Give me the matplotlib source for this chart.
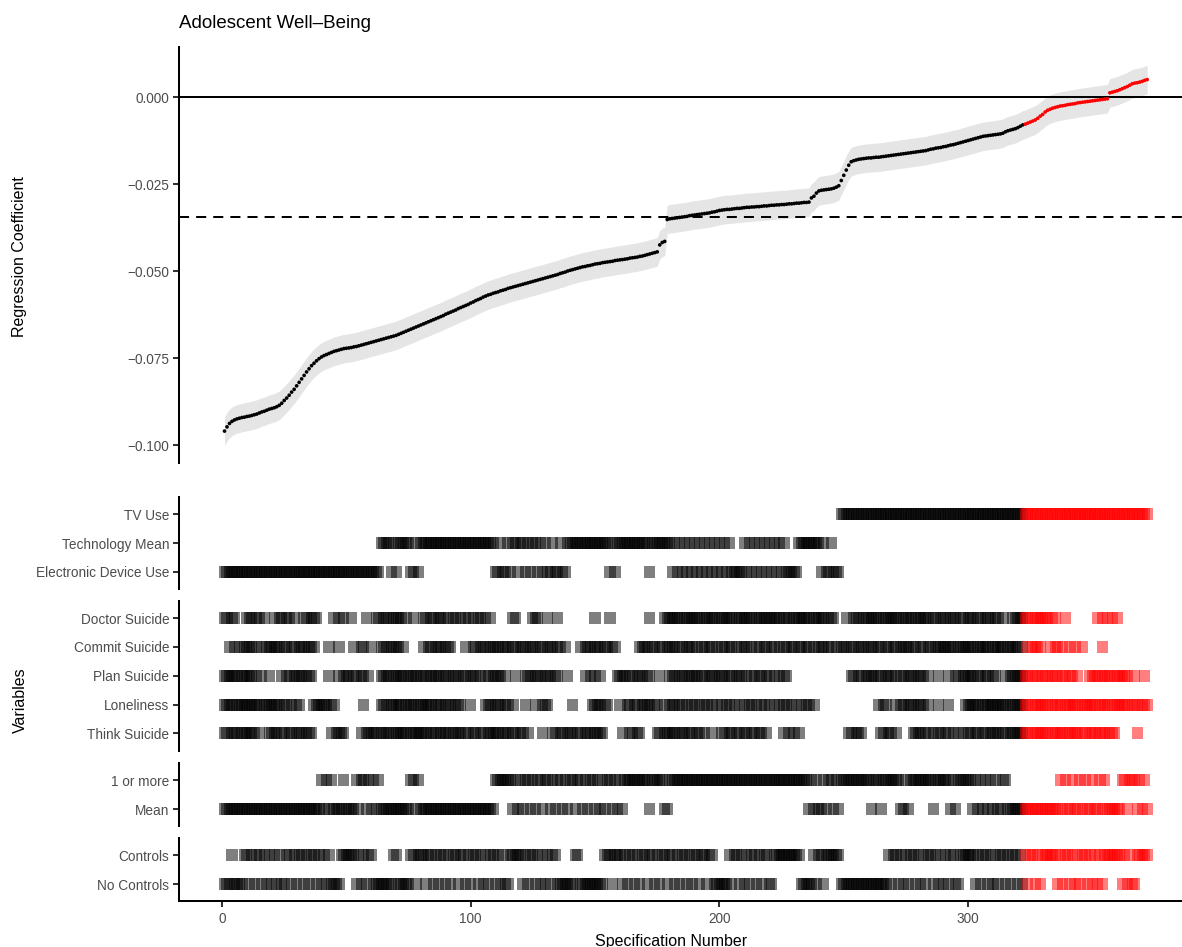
import numpy as np
import matplotlib
matplotlib.use("Agg")
import matplotlib.pyplot as plt
from matplotlib.ticker import FuncFormatter

plt.rcParams['font.family'] = ['Liberation Sans', 'DejaVu Sans']

# ---------------- data ----------------
title = "Adolescent Well\u2013Being"

# regression coefficient per specification (sorted), specs 1..372
coef = [
    -0.0960, -0.0948, -0.0938, -0.0932, -0.0928, -0.0925, -0.0923, -0.0921, -0.0920, -0.0918,
    -0.0917, -0.0915, -0.0913, -0.0911, -0.0908, -0.0905, -0.0903, -0.0900, -0.0897, -0.0895,
    -0.0893, -0.0890, -0.0886, -0.0880, -0.0872, -0.0865, -0.0857, -0.0848, -0.0840, -0.0830,
    -0.0820, -0.0810, -0.0800, -0.0790, -0.0781, -0.0772, -0.0765, -0.0758, -0.0752, -0.0747,
    -0.0743, -0.0740, -0.0737, -0.0734, -0.0731, -0.0729, -0.0727, -0.0725, -0.0723, -0.0722,
    -0.0721, -0.0720, -0.0718, -0.0717, -0.0715, -0.0713, -0.0711, -0.0709, -0.0707, -0.0705,
    -0.0703, -0.0701, -0.0699, -0.0697, -0.0695, -0.0693, -0.0691, -0.0689, -0.0687, -0.0685,
    -0.0682, -0.0679, -0.0676, -0.0673, -0.0670, -0.0667, -0.0664, -0.0661, -0.0658, -0.0655,
    -0.0652, -0.0649, -0.0646, -0.0643, -0.0640, -0.0637, -0.0634, -0.0631, -0.0628, -0.0624,
    -0.0621, -0.0618, -0.0615, -0.0612, -0.0608, -0.0605, -0.0602, -0.0599, -0.0596, -0.0592,
    -0.0589, -0.0585, -0.0582, -0.0579, -0.0575, -0.0572, -0.0569, -0.0567, -0.0564, -0.0562,
    -0.0560, -0.0557, -0.0555, -0.0553, -0.0550, -0.0548, -0.0546, -0.0544, -0.0542, -0.0540,
    -0.0538, -0.0536, -0.0534, -0.0532, -0.0530, -0.0528, -0.0526, -0.0524, -0.0522, -0.0520,
    -0.0518, -0.0516, -0.0514, -0.0512, -0.0510, -0.0507, -0.0505, -0.0503, -0.0500, -0.0498,
    -0.0496, -0.0494, -0.0492, -0.0490, -0.0488, -0.0487, -0.0485, -0.0484, -0.0482, -0.0480,
    -0.0479, -0.0478, -0.0476, -0.0475, -0.0474, -0.0473, -0.0472, -0.0470, -0.0469, -0.0468,
    -0.0467, -0.0466, -0.0465, -0.0463, -0.0462, -0.0461, -0.0460, -0.0458, -0.0457, -0.0455,
    -0.0453, -0.0451, -0.0449, -0.0447, -0.0445, -0.0425, -0.0418, -0.0415, -0.0352, -0.0350,
    -0.0349, -0.0348, -0.0347, -0.0346, -0.0345, -0.0344, -0.0343, -0.0341, -0.0340, -0.0339,
    -0.0338, -0.0337, -0.0336, -0.0335, -0.0334, -0.0333, -0.0331, -0.0330, -0.0328, -0.0326,
    -0.0325, -0.0324, -0.0323, -0.0323, -0.0322, -0.0321, -0.0320, -0.0320, -0.0319, -0.0318,
    -0.0317, -0.0317, -0.0316, -0.0316, -0.0315, -0.0315, -0.0314, -0.0313, -0.0313, -0.0312,
    -0.0311, -0.0311, -0.0310, -0.0310, -0.0309, -0.0309, -0.0308, -0.0307, -0.0307, -0.0306,
    -0.0305, -0.0305, -0.0304, -0.0303, -0.0303, -0.0302, -0.0290, -0.0285, -0.0276, -0.0270,
    -0.0268, -0.0267, -0.0266, -0.0265, -0.0264, -0.0262, -0.0259, -0.0255, -0.0240, -0.0225,
    -0.0210, -0.0196, -0.0186, -0.0183, -0.0181, -0.0179, -0.0178, -0.0177, -0.0176, -0.0175,
    -0.0175, -0.0174, -0.0173, -0.0173, -0.0172, -0.0171, -0.0170, -0.0169, -0.0168, -0.0167,
    -0.0166, -0.0165, -0.0164, -0.0163, -0.0162, -0.0161, -0.0160, -0.0159, -0.0158, -0.0157,
    -0.0156, -0.0155, -0.0154, -0.0152, -0.0150, -0.0149, -0.0147, -0.0146, -0.0145, -0.0143,
    -0.0142, -0.0140, -0.0138, -0.0137, -0.0135, -0.0133, -0.0131, -0.0129, -0.0127, -0.0125,
    -0.0123, -0.0121, -0.0119, -0.0117, -0.0115, -0.0113, -0.0112, -0.0111, -0.0110, -0.0109,
    -0.0108, -0.0107, -0.0106, -0.0104, -0.0100, -0.0097, -0.0095, -0.0093, -0.0091, -0.0088,
    -0.0084, -0.0080, -0.0078, -0.0075, -0.0072, -0.0069, -0.0066, -0.0061, -0.0055, -0.0050,
    -0.0043, -0.0038, -0.0035, -0.0032, -0.0030, -0.0028, -0.0026, -0.0025, -0.0024, -0.0022,
    -0.0021, -0.0020, -0.0019, -0.0017, -0.0016, -0.0015, -0.0014, -0.0013, -0.0012, -0.0011,
    -0.0010, -0.0009, -0.0008, -0.0007, -0.0006, -0.0005, 0.0012, 0.0014, 0.0016, 0.0018,
    0.0021, 0.0024, 0.0027, 0.0030, 0.0034, 0.0038, 0.0040, 0.0041, 0.0043, 0.0045,
    0.0048, 0.0050,
]
ci_half = 0.0041          # half width of the grey confidence band
first_nonsig_spec = 323   # specs from here on are drawn red

# Technology: E = Electronic Device Use, M = Technology Mean, T = TV Use
tech = """
EEEEEEEEEE EEEEEEEEEE EEEEEEEEEE EEEEEEEEEE EEEEEEEEEE EEEEEEEEEE EEEMMMMEME MMMMMEEMEM
MMMMMMMMMM MMMMMMMMMM MMMMMMMMME EMEEMEMMEM MEMEMMEMEM EEMEEMEEMM MMMMMMMMMM MMMMMEMEMM
MMMMMMMMMM MEMMMMMMMM EMEMEMEMEM EMEMEMEMEM EMEMEEEEEM EMEMEMEMEM EMEMEMEEEE EMMMMMMMMM
EMEEMEEETT TTTTTTTTTT TTTTTTTTTT TTTTTTTTTT TTTTTTTTTT TTTTTTTTTT TTTTTTTTTT TTTTTTTTTT
TTTTTTTTTT TTTTTTTTTT TTTTTTTTTT TTTTTTTTTT TTTTTTTTTT TT
"""
# Outcome measure: A = Mean, O = 1 or more
measure = """
AAAAAAAAAA AAAAAAAAAA AAAAAAAAAA AAAAAAAAAO AOAOAAAAOA AAAOAOOAOA OAOAAAAAAA AAAAAOOAOA
AAAAAAAAAA AAAAAAAAAA AAAAAAAAAO OOOOOOAOAO AOOAOAOOAO OAOAOOAOAO OAOOAOAOOA OAOAOOAOAO
AOOOOOOOOO OAOOOOOAAO OOOOOOOOOO OOOOOOOOOO OOOOOOOOOO OOOOOOOOOO OOOOOOOOOO OOOOOAOAOA
AOAOOAOAOO OOOOOOOOOO AOOOAOOOOO OOAAOAOOOO OOOOOAOOOO OOAOAOOOOO OAOAOAOAOA OAAOOAAAAA
AAAAAAAAAA AAAAAAOAOA AOAAOAOAAO AAOAOAAAAA AOOAOOOAOA OA
"""
# Controls: C = Controls, N = No Controls
controls = """
NNNCNNNNCC NCNCCNCNCN CNCNNCCNCN CCNCNCCNCN CNCNNNNCCC CCCNCNCNCC NNNNNNNNCC NNNNNCCNCC
CNCCNCNCCN CNCCNCCNCN CCNCNCNCCN CNCNNCCCCC NCNCCNCNCN CNCCNNNNNN NCCNNNNNNN NNNCCCNCCC
NCNCCNCNCC NCCNCNCCNC CNCNCCNCNC CNCCNCCNNN NNNCNCCNCN CNCCNCNCCN NCCCCCCCCC CCNNNNNCNC
CNCCCCCCNN NNNNNNNNNN NNNNNNNCNC CNCNCNCCNC NCNCCNCNCN CNCCNNCCCC CCNCNCCNCN CNCCNCNCCN
CNCNCCNCNC CCCCCNCNCC NCNCNCCNCN CNCNCCCCCC CNCNCNNCCC CC
"""
# Outcome variables included in each specification (1 = included)
doctor_suicide = """
1101100001 1101101000 1011011010 0011011100 0000101010 0100000100 0110111011 1101001000
1101101110 1011010110 1011010100 0000001100 0000111000 1000100000 0000000001 0000010000
0000000000 0100000111 1111011111 1101111101 1111101111 1110111111 1111011101 1111110111
1101110000 1001110111 1111011111 1101111011 1111011011 1011101101 1101101110 1101000111
1111011111 1101100010 0000000000 0101010101 0000000000 00
"""
commit_suicide = """
0010101011 1101010111 1110110110 1110111000 0010001000 0010011001 0001110111 1010000000
1011011101 1100000100 1101110111 1011101101 1101110110 1110110100 0001011101 1101101100
0000000111 1011011011 1101101110 1011011010 1101101011 1010110110 1101011011 0110110101
1101101011 1011011101 1101101101 1011110110 1101101111 1111011111 1101111101 1111011111
0101011110 0010110100 1010010000 0001000000 0000000000 00
"""
plan_suicide = """
1111110111 1101010010 0001011011 1101110000 0010001011 1011011010 0001111011 1110111101
1101111011 1011101101 1101011011 1101000100 0111011101 1101100010 0000010101 0100000011
1101101110 1100010001 1101110111 1011011101 1101101110 1011011011 0101011000 0000000000
0000000000 0011011011 1101101110 1011011101 1101000100 0100110111 1101101101 1000101111
1111011101 1101110110 1101000011 1101111011 1111001000 10
"""
loneliness = """
1111011111 1111101111 1110110101 1000001111 1101100000 0000001000 0001110111 1101111011
1111011101 1101110001 0000011101 1101101000 0100010011 1000000000 1000000011 1101100001
0011011011 1101100101 1101101011 0101101010 1011010101 0110101101 0101011010 1010110100
0000000000 0000000000 0001011000 1011011101 1101000100 0100000011 1111011111 1111101111
1111011111 1101111011 1111011111 1011110111 1111011101 11
"""
think_suicide = """
1101110111 1110100011 1101101101 1101110000 0001011110 0000010111 1101111011 1111011111
1101110111 1011110110 1101101111 1011101101 1010000010 0011011011 1011011101 1110000000
1001101100 0000110111 1101110110 1101001000 1101101101 1011011010 0000010101 0100000000
0000000000 0110111000 0000110110 1000000111 1011010110 1101010101 1011011011 1101101111
1111011111 1101111101 1111011011 1011101110 0000000100 00
"""

groups = [
    [("TV Use", tech, "T"), ("Technology Mean", tech, "M"), ("Electronic Device Use", tech, "E")],
    [("Doctor Suicide", doctor_suicide, "1"), ("Commit Suicide", commit_suicide, "1"),
     ("Plan Suicide", plan_suicide, "1"), ("Loneliness", loneliness, "1"),
     ("Think Suicide", think_suicide, "1")],
    [("1 or more", measure, "O"), ("Mean", measure, "A")],
    [("Controls", controls, "C"), ("No Controls", controls, "N")],
]

# ---------------- layout helpers ----------------
W, H = 1182, 947
def rect(l, t, r, b):
    return [l / W, 1 - b / H, (r - l) / W, (b - t) / H]

n = len(coef)
spec = np.arange(1, n + 1)
coef_a = np.array(coef)
colors = np.where(spec >= first_nonsig_spec, "#FF0000", "#000000")

def clean(s):
    s = "".join(s.split())
    return (s + "0" * n)[:n]

XLIM = (-17.3, 386.0)
tick_grey = "#4D4D4D"
spine_lw = 1.45

fig = plt.figure(figsize=(W / 100, H / 100), dpi=100)

# ---------------- top panel ----------------
ax = fig.add_axes(rect(179, 47, W, 463))
ax.fill_between(spec, coef_a - ci_half, coef_a + ci_half, color="#E5E5E5", linewidth=0, zorder=1)
ax.axhline(0, color="black", lw=spine_lw, zorder=2)
ax.axhline(np.median(coef_a), color="black", lw=spine_lw, ls=(0, (5, 3.5)), zorder=2)
ax.scatter(spec, coef_a, s=7, c=colors, linewidths=0, zorder=3)
ax.set_xlim(*XLIM)
ax.set_ylim(-0.10517, 0.01437)
ax.set_yticks([0.0, -0.025, -0.05, -0.075, -0.1])
ax.yaxis.set_major_formatter(FuncFormatter(lambda v, p: f"{v:.3f}".replace("-", "\u2212")))
ax.set_xticks([])
for s in ["top", "right", "bottom"]:
    ax.spines[s].set_visible(False)
ax.spines["left"].set_linewidth(spine_lw)
ax.tick_params(axis="y", length=4, width=spine_lw, color="#333333",
               labelcolor=tick_grey, labelsize=9.8, pad=3)
fig.text(20 / W, 1 - 257 / H, "Regression Coefficient", rotation=90,
         ha="center", va="center", fontsize=11.5)
fig.text(179 / W, 1 - 28 / H, title, ha="left", va="baseline", fontsize=13.5)

# ---------------- tile panels ----------------
row_px = 28.75
tile_h = 12 / row_px
tile_w = 4.5
panel_tops = [497, 601, 763, 838]

for gi, (rows, top) in enumerate(zip(groups, panel_tops)):
    nrow = len(rows)
    bottom = top + (nrow + 0.2) * row_px
    a = fig.add_axes(rect(179, top, W, bottom))
    for ri, (label, s, key) in enumerate(rows):
        s = clean(s)
        sel = np.array([ch == key for ch in s])
        xs = spec[sel]
        a.bar(xs, tile_h, width=tile_w, bottom=ri - tile_h / 2, color=colors[sel],
              alpha=0.5, linewidth=0, antialiased=False)
    a.set_xlim(*XLIM)
    a.set_ylim(nrow - 0.4, -0.6)
    a.set_yticks(range(nrow))
    a.set_yticklabels([r[0] for r in rows])
    for sname in ["top", "right"]:
        a.spines[sname].set_visible(False)
    a.spines["left"].set_linewidth(spine_lw)
    a.tick_params(axis="y", length=4, width=spine_lw, color="#333333",
                  labelcolor=tick_grey, labelsize=9.8, pad=3)
    if gi == len(groups) - 1:
        a.spines["bottom"].set_linewidth(spine_lw)
        a.set_xticks([0, 100, 200, 300])
        a.tick_params(axis="x", length=4, width=spine_lw, color="#333333",
                      labelcolor=tick_grey, labelsize=9.8, pad=4)
    else:
        a.spines["bottom"].set_visible(False)
        a.set_xticks([])

fig.text(20 / W, 1 - 700 / H, "Variables", rotation=90, ha="center", va="center", fontsize=11.5)
fig.text(671 / W, 1 - 941 / H, "Specification Number", ha="center", va="center", fontsize=11.5)

fig.savefig("out.png", dpi=100)
